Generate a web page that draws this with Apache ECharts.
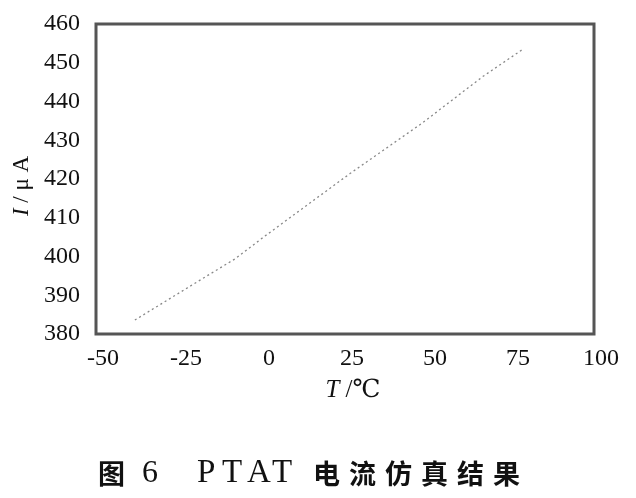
<!DOCTYPE html>
<html>
<head>
<meta charset="utf-8">
<script src="https://cdn.jsdelivr.net/npm/echarts@6/dist/echarts.min.js"></script>
<style>html,body{margin:0;padding:0;background:#fff;}#c{width:636px;height:498px;}</style>
</head>
<body>
<div id="c"></div>
<script>
// Temperature (°C) and PTAT current (μA)
const temperature = [-38.3, -18.1, -8.1, 0.3, 26.5, 48.2, 66.6, 78.6];
const current = [383.6, 394.2, 399.4, 404.9, 421.4, 434.4, 446.5, 453.5];
const xTicks = [-50, -25, 0, 25, 50, 75, 100];
const yTicks = [380, 390, 400, 410, 420, 430, 440, 450, 460];
const captionText = '图 6 PTAT 电流仿真结果';

const points = temperature.map((t, i) => [t, current[i]]);
const serif = '"Liberation Serif", "DejaVu Serif", serif';
const cjk = '"Noto Sans CJK SC", sans-serif';

const chart = echarts.init(document.getElementById('c'));
chart.setOption({
  backgroundColor: '#ffffff',
  animation: false,
  title: {
    left: 93, top: 452,
    text: '{a|图}{b|6}{p|P}{p|T}{p|A}{q|T}{c|电}{c|流}{c|仿}{c|真}{c|结}{c|果}',
    textStyle: {
      fontWeight: 'normal',
      rich: {
        a: { fontFamily: cjk, fontSize: 27, fontWeight: 'bold', color: '#111', width: 44 },
        b: { fontFamily: serif, fontSize: 32, fontWeight: 'normal', color: '#111', width: 55 },
        p: { fontFamily: serif, fontSize: 33, fontWeight: 'normal', color: '#111', width: 25 },
        q: { fontFamily: serif, fontSize: 33, fontWeight: 'normal', color: '#111', width: 41 },
        c: { fontFamily: cjk, fontSize: 27, fontWeight: 'bold', color: '#111', width: 36 }
      }
    }
  },
  grid: { left: 96, right: 42, top: 24, bottom: 164, show: true, borderColor: '#555', borderWidth: 3 },
  xAxis: {
    type: 'value', min: xTicks[0], max: xTicks[xTicks.length - 1], interval: 25,
    name: '{i|T} /℃', nameLocation: 'middle', nameGap: 44,
    nameTextStyle: { fontFamily: serif, fontSize: 25, color: '#111', padding: [0, 0, 0, 16],
      rich: { i: { fontFamily: serif, fontStyle: 'italic', fontSize: 25, color: '#111' } } },
    axisLine: { show: false }, axisTick: { show: false }, splitLine: { show: false },
    axisLabel: { fontFamily: serif, fontSize: 24, color: '#111', margin: 13, padding: [0, 0, 0, 14] }
  },
  yAxis: {
    type: 'value', min: yTicks[0], max: yTicks[yTicks.length - 1], interval: 10,
    name: '{i|I} / μ A', nameLocation: 'middle', nameRotate: 90, nameGap: 62,
    nameTextStyle: { fontFamily: serif, fontSize: 23, color: '#111', padding: [0, 14, 0, 0],
      rich: { i: { fontFamily: serif, fontStyle: 'italic', fontSize: 23, color: '#111' } } },
    axisLine: { show: false }, axisTick: { show: false }, splitLine: { show: false },
    axisLabel: { fontFamily: serif, fontSize: 24, color: '#111', margin: 16 }
  },
  series: [{
    type: 'line', data: points, showSymbol: false, smooth: false,
    lineStyle: { color: '#888', width: 1.3, type: [2, 3] }
  }]
});
</script>
</body>
</html>
